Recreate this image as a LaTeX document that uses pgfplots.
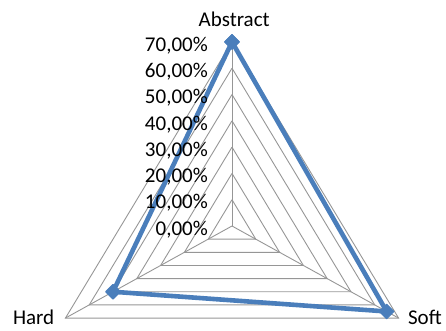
\documentclass[border=0pt]{standalone}
\usepackage{fontspec}
\setmainfont{Carlito}
\usepackage{pgfplots}
\pgfplotsset{compat=1.18}
\definecolor{gridc}{HTML}{969696}
\definecolor{serc}{HTML}{4A7EBB}
\tikzset{lbl/.style={inner sep=0pt, outer sep=0pt, font=\fontsize{21}{25}\selectfont, text=black}}
\begin{document}
\begin{tikzpicture}
\begin{axis}[
  x=2.747pt, y=2.63pt,
  xmin=-84.45, xmax=77.9, ymin=-39.92, ymax=85.93,
  axis lines=none, clip=false,
]
\path (axis cs:-84.45,-39.92) rectangle (axis cs:77.9,85.93);
% grid triangles (levels 10..70)
\addplot[data cs=polar, gridc, line width=0.9pt, forget plot] coordinates {(90,10) (210,10) (330,10) (90,10)};
\addplot[data cs=polar, gridc, line width=0.9pt, forget plot] coordinates {(90,20) (210,20) (330,20) (90,20)};
\addplot[data cs=polar, gridc, line width=0.9pt, forget plot] coordinates {(90,30) (210,30) (330,30) (90,30)};
\addplot[data cs=polar, gridc, line width=0.9pt, forget plot] coordinates {(90,40) (210,40) (330,40) (90,40)};
\addplot[data cs=polar, gridc, line width=0.9pt, forget plot] coordinates {(90,50) (210,50) (330,50) (90,50)};
\addplot[data cs=polar, gridc, line width=0.9pt, forget plot] coordinates {(90,60) (210,60) (330,60) (90,60)};
\addplot[data cs=polar, gridc, line width=0.9pt, forget plot] coordinates {(90,70) (210,70) (330,70) (90,70)};
% spokes
\addplot[data cs=polar, gridc, line width=0.9pt, forget plot] coordinates {(90,0) (90,70)};
\addplot[data cs=polar, gridc, line width=0.9pt, forget plot] coordinates {(210,0) (210,70)};
\addplot[data cs=polar, gridc, line width=0.9pt, forget plot] coordinates {(330,0) (330,70)};
% data series: Abstract 70%, Soft 65%, Hard 50%
\addplot[data cs=polar, serc, line width=4.6pt, line join=round,
  mark=square*, mark size=5.2pt, mark options={rotate=45, fill=serc, line width=1pt}]
  coordinates {(90,70) (330,65) (210,50) (90,70)};
% radial tick labels
\node[lbl, anchor=base east] at (axis cs:-8.8,66.5) {70,00\%};
\node[lbl, anchor=base east] at (axis cs:-8.8,56.5) {60,00\%};
\node[lbl, anchor=base east] at (axis cs:-8.8,46.5) {50,00\%};
\node[lbl, anchor=base east] at (axis cs:-8.8,36.5) {40,00\%};
\node[lbl, anchor=base east] at (axis cs:-8.8,26.5) {30,00\%};
\node[lbl, anchor=base east] at (axis cs:-8.8,16.5) {20,00\%};
\node[lbl, anchor=base east] at (axis cs:-8.8,6.5) {10,00\%};
\node[lbl, anchor=base east] at (axis cs:-8.8,-3.5) {0,00\%};
% category labels
\node[lbl, anchor=base] at (axis cs:0.8,76.0) {Abstract};
\node[lbl, anchor=base west] at (axis cs:-79.7,-37.5) {Hard};
\node[lbl, anchor=base west] at (axis cs:64.1,-37.5) {Soft};
\end{axis}
\end{tikzpicture}
\end{document}
